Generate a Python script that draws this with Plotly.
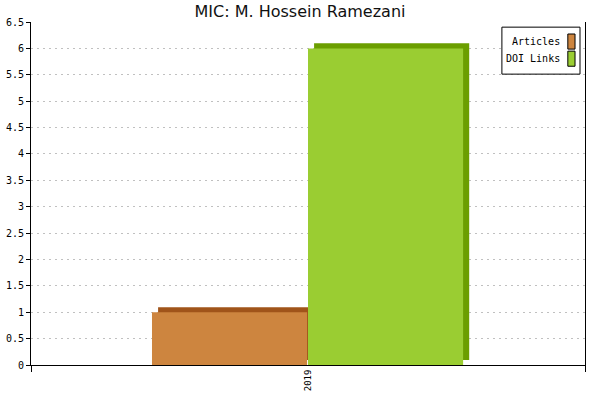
import plotly.graph_objects as go

# data
years = ["2019"]
articles = [1]
doi_links = [6]

series_names = ["Articles", "DOI Links"]
face_colors = ["#cd853f", "#9acd32"]
side_colors = ["#a0541a", "#6b9e00"]

# fake 3d depth (x in category units, y in value units)
dx = 0.011
dy = 0.095
bar_w = 0.28
offsets = [-0.2816, 0.0]

fig = go.Figure()

for vals, name, face, side, off in zip([articles, doi_links], series_names,
                                       face_colors, side_colors, offsets):
    # shadow block behind the bar gives the top / right faces
    fig.add_trace(go.Bar(x=years, y=vals, base=dy, offset=off + dx, width=bar_w,
                         marker_color=side, marker_line_width=0,
                         showlegend=False, hoverinfo="skip"))
    fig.add_trace(go.Bar(x=years, y=vals, offset=off, width=bar_w,
                         marker_color=face, marker_line_width=0,
                         name=name, showlegend=False))

mono = "DejaVu Sans Mono"

fig.update_layout(
    width=600, height=400,
    barmode="overlay",
    plot_bgcolor="white", paper_bgcolor="white",
    margin=dict(l=31, r=15, t=22, b=35),
    title=dict(text="MIC: M. Hossein Ramezani", x=0.5, xanchor="center",
               y=1 - 11 / 400, yanchor="middle", yref="container",
               font=dict(family="DejaVu Sans", size=16, color="#111")),
    showlegend=False,
)

fig.update_xaxes(
    type="category",
    range=[-0.5, 0.5],
    automargin=False,
    showline=True, linecolor="black", linewidth=1,
    ticks="outside", tickson="boundaries", ticklen=6, tickcolor="black",
    tickangle=-90,
    tickfont=dict(family=mono, size=9, color="black"),
    showgrid=False,
)
fig.update_yaxes(
    range=[0, 6.5], dtick=0.5,
    automargin=False,
    showline=True, linecolor="black", linewidth=1, mirror=True,
    ticks="outside", ticklen=4, tickcolor="black",
    tickfont=dict(family=mono, size=10, color="black"),
    gridcolor="#c0c0c0", griddash="2px,4px", gridwidth=1,
    zeroline=False,
)

# legend drawn by hand: labels left of the swatches, like the original
fig.add_shape(type="rect", xref="paper", yref="paper",
              x0=0.850, x1=0.991, y0=0.848, y1=0.985,
              line=dict(color="black", width=1), fillcolor="white")
legend_y = [0.943, 0.893]
for name, face, ly in zip(series_names, face_colors, legend_y):
    fig.add_shape(type="rect", xref="paper", yref="paper",
                  x0=0.969, x1=0.982, y0=ly - 0.022, y1=ly + 0.022,
                  line=dict(color="black", width=1), fillcolor=face)
    fig.add_annotation(text=name, xref="paper", yref="paper",
                       x=0.958, y=ly, xanchor="right", yanchor="middle",
                       showarrow=False,
                       font=dict(family=mono, size=10, color="black"))

# page body has a default 8px margin, drop it so the chart sits at 0,0
fig.write_html("out.html", config={"displayModeBar": False},
               post_script="document.body.style.margin='0';")
